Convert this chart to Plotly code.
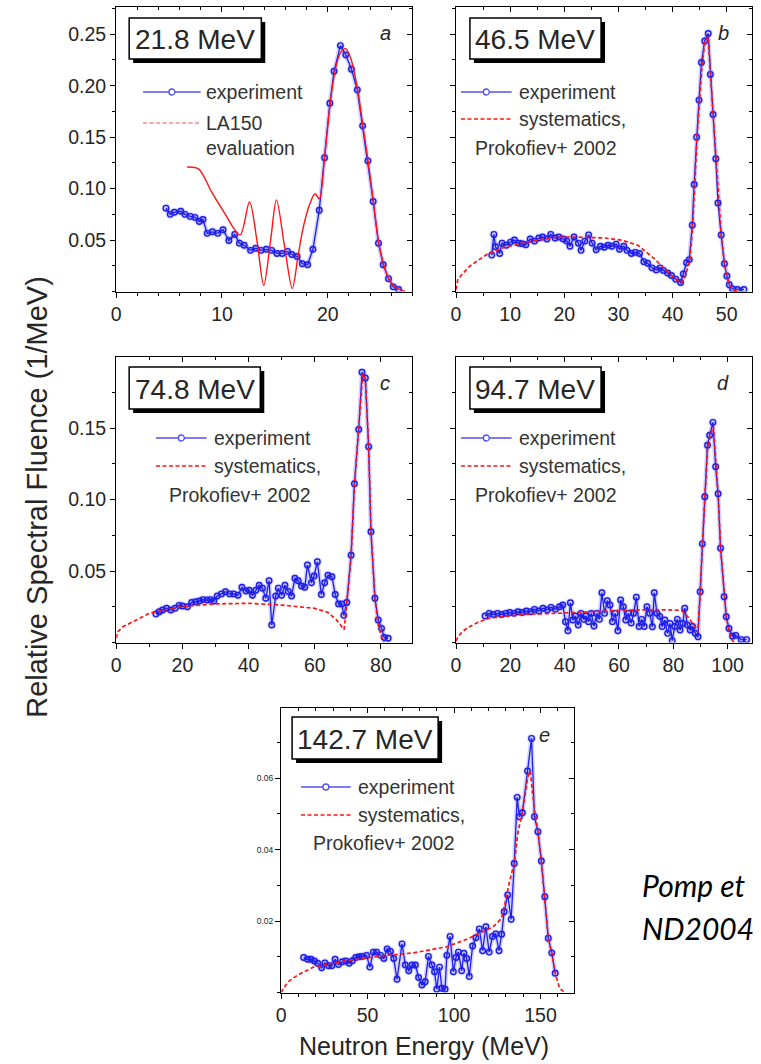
import plotly.graph_objects as go

# ---------------- data ----------------
# panel a : 21.8 MeV
a_exp_x = [4.7, 5.1, 5.5, 6.1, 6.5, 7.0, 7.45, 7.85, 8.2, 8.6, 9.1, 9.6, 10.1, 10.65, 11.2, 11.65, 12.1, 12.7,
           13.2, 13.7, 14.2, 14.7, 15.2, 15.7, 16.2, 16.6, 17.1, 17.6, 18.1, 18.6, 19.2, 19.7, 20.2, 20.6, 21.2,
           21.7, 22.25, 22.8, 23.3, 23.8, 24.3, 24.8, 25.25, 25.75, 26.2, 26.7]
a_exp_y = [0.081, 0.075, 0.077, 0.078, 0.075, 0.073, 0.072, 0.068, 0.070, 0.0565, 0.058, 0.0565, 0.060, 0.0495,
           0.0555, 0.047, 0.045, 0.040, 0.042, 0.040, 0.041, 0.040, 0.037, 0.037, 0.039, 0.036, 0.034, 0.027,
           0.026, 0.041, 0.079, 0.130, 0.183, 0.214, 0.239, 0.230, 0.216, 0.196, 0.161, 0.127, 0.0875, 0.047,
           0.026, 0.0125, 0.0045, 0.002]
a_eval_x = [6.7, 7.8, 9.0, 10.2, 11.7, 12.6, 13.3, 13.95, 14.6, 15.15, 15.9, 16.65, 17.2, 17.7, 18.3, 18.8, 19.2,
            19.7, 20.2, 20.7, 21.2, 21.7, 22.2, 22.8, 23.3, 23.8, 24.3, 24.8, 25.3, 25.8, 26.3, 26.8, 27.3]
a_eval_y = [0.121, 0.119, 0.097, 0.077, 0.055, 0.087, 0.050, 0.006, 0.050, 0.089, 0.045, 0.003, 0.035, 0.063,
            0.085, 0.095, 0.090, 0.130, 0.180, 0.215, 0.232, 0.236, 0.226, 0.198, 0.163, 0.128, 0.089, 0.049,
            0.026, 0.012, 0.005, 0.002, 0.0]

# panel b : 46.5 MeV
b_exp_x = [6.6, 7.0, 7.3, 8.06, 8.5, 9.3, 10.07, 10.8, 11.6, 12.2, 12.9, 13.7, 14.5, 15.3, 16.0, 16.8, 17.5,
           18.3, 19.0, 19.8, 20.45, 21.06, 21.8, 22.6, 23.1, 23.8, 24.5, 25.15, 25.9, 26.7, 27.4, 28.1, 28.8,
           29.6, 30.2, 31.0, 31.6, 32.4, 33.1, 33.9, 34.7, 35.4, 36.2, 37.0, 37.7, 38.3, 39.1, 39.8, 40.6, 41.5,
           42.0, 42.6, 43.1, 43.65, 44.0, 44.45, 44.9, 45.35, 45.95, 46.6, 47.0, 47.5, 48.0, 48.4, 49.0, 49.6,
           50.05, 50.5, 51.1, 52.0, 53.2]
b_exp_y = [0.0354, 0.0555, 0.0435, 0.037, 0.047, 0.045, 0.048, 0.050, 0.047, 0.0465, 0.0455, 0.051, 0.049,
           0.052, 0.053, 0.051, 0.0555, 0.052, 0.053, 0.051, 0.049, 0.044, 0.053, 0.047, 0.040, 0.049, 0.055,
           0.047, 0.0405, 0.044, 0.043, 0.045, 0.044, 0.046, 0.041, 0.044, 0.040, 0.037, 0.038, 0.037, 0.029,
           0.0275, 0.023, 0.021, 0.023, 0.0205, 0.018, 0.0155, 0.012, 0.0087, 0.017, 0.028, 0.031, 0.0645,
           0.104, 0.150, 0.186, 0.2225, 0.2435, 0.2507, 0.211, 0.172, 0.129, 0.086, 0.055, 0.027, 0.015, 0.0065,
           0.0025, 0.002, 0.002]
b_sys_x = [0, 0.3, 1, 2.4, 4, 6.1, 9, 12.2, 15, 18.3, 21, 24.4, 27.5, 30.5, 33.6, 36.6, 39.7, 41.6, 42.3, 43.2,
           43.7, 44.1, 44.5, 45.0, 45.5, 46.0, 46.6, 47.0, 47.5, 48.0, 48.5, 49.0, 49.6, 50.1, 50.6, 51.2, 52]
b_sys_y = [0.002, 0.011, 0.016, 0.024, 0.030, 0.0375, 0.043, 0.047, 0.050, 0.0525, 0.053, 0.0525, 0.052, 0.050,
           0.045, 0.032, 0.016, 0.008, 0.014, 0.030, 0.063, 0.102, 0.148, 0.186, 0.222, 0.243, 0.248, 0.212,
           0.172, 0.129, 0.086, 0.055, 0.027, 0.014, 0.006, 0.002, 0.0]

# panel c : 74.8 MeV
c_exp_x = [12.0, 13.0, 14.0, 15.2, 16.5, 17.8, 19.0, 20.0, 21.5, 22.8, 24.0, 25.2, 26.2, 27.5, 28.5, 29.5, 30.5,
           31.8, 33.0, 34.3, 35.5, 36.8, 38.0, 39.2, 40.2, 41.2, 42.2, 43.2, 44.2, 45.2, 46.2, 47.0, 48.2, 49.0,
           50.0, 51.0, 52.0, 53.0, 54.0, 55.0, 56.0, 57.0, 57.8, 59.0, 59.8, 60.8, 62.0, 63.0, 64.0, 65.2, 66.2,
           67.2, 68.2, 68.8, 69.7, 71.0, 72.0, 73.3, 74.3, 75.3, 76.3, 77.0, 78.2, 79.2, 80.2, 81.0, 82.2]
c_exp_y = [0.020, 0.0215, 0.0227, 0.024, 0.0227, 0.024, 0.026, 0.0255, 0.025, 0.028, 0.0285, 0.029, 0.030,
           0.0297, 0.030, 0.029, 0.0325, 0.034, 0.0355, 0.034, 0.034, 0.033, 0.0386, 0.036, 0.0365, 0.033,
           0.0365, 0.040, 0.038, 0.031, 0.0432, 0.0122, 0.0325, 0.038, 0.033, 0.040, 0.0357, 0.0325, 0.0449,
           0.0432, 0.0395, 0.0386, 0.0542, 0.0418, 0.0465, 0.0565, 0.0336, 0.0418, 0.047, 0.046, 0.0336, 0.027,
           0.027, 0.019, 0.028, 0.061, 0.111, 0.149, 0.189, 0.185, 0.137, 0.0775, 0.031, 0.0157, 0.0099, 0.0035,
           0.003]
c_sys_x = [0, 0.5, 2, 5, 10, 15, 20, 30, 40, 50, 60, 64, 66.5, 68.2, 68.9, 69.7, 71.0, 72.0, 73.3, 74.5, 75.3,
           76.3, 77.0, 78.2, 79.2, 80.2, 81.0]
c_sys_y = [0.003, 0.0076, 0.011, 0.0146, 0.0204, 0.023, 0.0251, 0.027, 0.0274, 0.0262, 0.0239, 0.021, 0.016,
           0.011, 0.009, 0.028, 0.060, 0.110, 0.150, 0.188, 0.184, 0.137, 0.078, 0.031, 0.012, 0.004, 0.0]

# panel d : 94.7 MeV
d_exp_x = [10.7, 12.2, 13.7, 15.3, 16.8, 18.3, 19.8, 21.4, 22.8, 24.4, 25.9, 27.5, 28.9, 30.5, 32.0, 33.6, 35.0,
           36.6, 38.1, 39.3, 40.3, 41.2, 42.1, 43.0, 44.0, 45.0, 46.0, 47.0, 47.8, 48.8, 49.8, 50.8, 51.8, 52.8,
           53.7, 54.7, 55.7, 56.7, 57.6, 58.6, 59.6, 60.6, 61.6, 62.5, 63.5, 64.5, 65.4, 66.4, 67.4, 68.4, 69.3,
           70.3, 71.3, 72.3, 73.0, 74.0, 75.0, 75.9, 76.9, 77.9, 78.8, 79.6, 80.5, 81.5, 82.5, 83.5, 84.2, 85.2,
           86.2, 87.1, 88.1, 89.1, 89.9, 90.7, 91.6, 92.6, 93.4, 94.6, 95.6, 96.5, 97.4, 98.7, 99.5, 100.5, 101.8,
           103.0, 105.0, 107.0]
d_exp_y = [0.0185, 0.0204, 0.0196, 0.0204, 0.0196, 0.0204, 0.021, 0.0204, 0.0215, 0.021, 0.022, 0.0215, 0.0232,
           0.022, 0.024, 0.0227, 0.0246, 0.0232, 0.025, 0.0262, 0.0146, 0.0082, 0.0278, 0.0157, 0.0185, 0.0122,
           0.0204, 0.0162, 0.0185, 0.0146, 0.0204, 0.0115, 0.0204, 0.0162, 0.0348, 0.0204, 0.0292, 0.0262,
           0.0146, 0.0204, 0.0082, 0.0297, 0.025, 0.0157, 0.0204, 0.0136, 0.0204, 0.0316, 0.0112, 0.0162, 0.0112,
           0.025, 0.0204, 0.011, 0.0348, 0.0204, 0.0183, 0.0112, 0.0157, 0.0064, 0.0133, 0.0013, 0.0112, 0.0162,
           0.0087, 0.0133, 0.024, 0.0122, 0.0087, 0.0112, 0.0064, 0.004, 0.0355, 0.069, 0.102, 0.138, 0.145,
           0.154, 0.123, 0.104, 0.066, 0.032, 0.018, 0.0098, 0.0044, 0.005, 0.002, 0.002]
d_sys_x = [0, 0.6, 2, 4, 6.1, 9, 12.2, 18.3, 24.4, 36.6, 48.8, 61, 73.3, 83, 85.5, 88, 89.0, 89.9, 90.7, 91.6,
           92.6, 93.6, 94.8, 95.6, 96.5, 97.4, 98.7, 99.5, 100.5, 101.5, 102.5]
d_sys_y = [0.001, 0.0035, 0.007, 0.010, 0.0122, 0.0148, 0.017, 0.0185, 0.0196, 0.0204, 0.0215, 0.0225, 0.023,
           0.0225, 0.0176, 0.011, 0.007, 0.035, 0.069, 0.100, 0.136, 0.145, 0.151, 0.128, 0.104, 0.066, 0.032,
           0.018, 0.008, 0.002, 0.0]

# panel e : 142.7 MeV
e_exp_x = [13.0, 15.3, 17.2, 19.2, 21.1, 23.4, 25.3, 27.4, 29.3, 31.2, 33.1, 35.4, 37.4, 39.3, 41.2, 43.1, 45.0,
           46.9, 49.4, 51.3, 53.3, 55.2, 57.5, 59.4, 61.3, 63.2, 65.1, 67.0, 69.9, 71.8, 73.8, 75.7, 77.6, 79.5,
           81.4, 83.3, 85.2, 87.2, 88.7, 90.0, 91.6, 92.9, 94.8, 95.8, 97.7, 99.6, 101.1, 102.5, 104.4, 105.7,
           107.3, 108.8, 110.7, 112.6, 114.6, 116.5, 118.4, 120.3, 122.2, 124.1, 126.0, 127.5, 129.0, 131.0,
           133.0, 134.8, 136.5, 137.8, 139.5, 142.5, 144.8, 146.5, 148.5, 150.5, 152.5, 154.5, 156.5, 158.5]
e_exp_y = [0.0098, 0.0093, 0.0093, 0.0088, 0.0082, 0.0069, 0.0083, 0.0075, 0.0075, 0.0093, 0.0078, 0.0086,
           0.0088, 0.0082, 0.0089, 0.0098, 0.0100, 0.0101, 0.0104, 0.0071, 0.0113, 0.0113, 0.0104, 0.0095, 0.0122,
           0.0115, 0.0095, 0.0037, 0.0136, 0.0077, 0.0061, 0.0077, 0.0077, 0.0042, 0.0021, 0.003, 0.0101, 0.0077,
           0.0058, 0.0009, 0.0071, 0.0012, 0.0009, 0.0104, 0.0157, 0.0058, 0.0098, 0.0113, 0.0061, 0.011, 0.0095,
           0.0045, 0.013, 0.0153, 0.0178, 0.0117, 0.0184, 0.0113, 0.0157, 0.0164, 0.0117, 0.0163, 0.0226, 0.0273,
           0.0205, 0.0361, 0.0546, 0.0492, 0.0503, 0.062, 0.0711, 0.0492, 0.045, 0.0368, 0.0268, 0.0152, 0.0111,
           0.0054]
e_sys_x = [0, 1, 4, 9.6, 19.2, 38.3, 57.5, 76.6, 95.8, 107.3, 115, 122.6, 127.4, 130, 132, 134.8, 137, 139.5,
           142.5, 144, 146.5, 148.5, 150.5, 152.5, 154.5, 156.5, 158.5, 161, 164]
e_sys_y = [0.0, 0.0009, 0.003, 0.0049, 0.0072, 0.0089, 0.0102, 0.0111, 0.0128, 0.0149, 0.0166, 0.0184, 0.0207,
           0.026, 0.031, 0.0361, 0.045, 0.0503, 0.060, 0.062, 0.051, 0.045, 0.0368, 0.0268, 0.0152, 0.011,
           0.0054, 0.0012, 0.0]

energy_labels = ["21.8 MeV", "46.5 MeV", "74.8 MeV", "94.7 MeV", "142.7 MeV"]
panel_letters = ["a", "b", "c", "d", "e"]
x_ticks = [[0, 10, 20], [0, 10, 20, 30, 40, 50], [0, 20, 40, 60, 80], [0, 20, 40, 60, 80, 100], [0, 50, 100, 150]]
y_ticks_ab = [0.05, 0.10, 0.15, 0.20, 0.25]
y_ticks_cd = [0.05, 0.10, 0.15]
y_ticks_e = [0.02, 0.04, 0.06]

# ---------------- layout helpers ----------------
W, H = 761, 1064
FONT = "Liberation Sans, Arial, Helvetica, sans-serif"
TXT = "#262626"


def fx(p):
    return p / W


def fy(p):
    return 1 - p / H


panels = [
    dict(x=(112, 410), y=(7, 291.5), xr=[0, 28], yr=[0, 0.2765], xt=x_ticks[0], xm=2,
         yt=y_ticks_ab, ym=0.025, ylab=True, yfs=19.5,
         exp=(a_exp_x, a_exp_y), ref=(a_eval_x, a_eval_y)),
    dict(x=(454, 752), y=(7, 291.5), xr=[0, 54.7], yr=[0, 0.2765], xt=x_ticks[1], xm=5,
         yt=y_ticks_ab, ym=0.025, ylab=False, yfs=19.5,
         exp=(b_exp_x, b_exp_y), ref=(b_sys_x, b_sys_y)),
    dict(x=(112, 410), y=(357, 642.5), xr=[0, 89.5], yr=[0, 0.1997], xt=x_ticks[2], xm=10,
         yt=y_ticks_cd, ym=0.025, ylab=True, yfs=19.5,
         exp=(c_exp_x, c_exp_y), ref=(c_sys_x, c_sys_y)),
    dict(x=(454, 752), y=(357, 642.5), xr=[0, 109], yr=[0, 0.1997], xt=x_ticks[3], xm=10,
         yt=y_ticks_cd, ym=0.025, ylab=False, yfs=19.5,
         exp=(d_exp_x, d_exp_y), ref=(d_sys_x, d_sys_y)),
    dict(x=(278, 573), y=(708, 992.5), xr=[0, 169.5], yr=[0, 0.0796], xt=x_ticks[4], xm=10,
         yt=y_ticks_e, ym=0.01, ylab=True, yfs=8.5,
         exp=(e_exp_x, e_exp_y), ref=(e_sys_x, e_sys_y)),
]

fig = go.Figure()
layout = {}
annotations = []
shapes = []

BLUE = "#1e1ee8"
RED = "#ff1414"

for i, p in enumerate(panels, start=1):
    xs = "x" if i == 1 else f"x{i}"
    ys = "y" if i == 1 else f"y{i}"
    xo, yo = f"x{i + 5}", f"y{i + 5}"
    xn = "xaxis" if i == 1 else f"xaxis{i}"
    yn = "yaxis" if i == 1 else f"yaxis{i}"

    ex, ey = p["exp"]
    rx, ry = p["ref"]
    # glow underlay
    fig.add_trace(go.Scatter(x=ex, y=ey, xaxis=xs, yaxis=ys, mode="lines+markers",
                             line=dict(color="rgba(80,80,255,0.25)", width=4.5),
                             marker=dict(symbol="circle", size=9, color="rgba(80,80,255,0.22)"),
                             hoverinfo="skip", showlegend=False))
    fig.add_trace(go.Scatter(x=ex, y=ey, xaxis=xs, yaxis=ys, mode="lines+markers",
                             line=dict(color=BLUE, width=1.3),
                             marker=dict(symbol="circle-open", size=5.5, color=BLUE, line=dict(width=1.4)),
                             name="experiment", showlegend=False))
    if i == 1:
        fig.add_trace(go.Scatter(x=rx, y=ry, xaxis=xs, yaxis=ys, mode="lines",
                                 line=dict(color=RED, width=1.4, shape="spline", smoothing=0.9),
                                 name="LA150 evaluation", showlegend=False))
    else:
        fig.add_trace(go.Scatter(x=rx, y=ry, xaxis=xs, yaxis=ys, mode="lines",
                                 line=dict(color=RED, width=1.7, dash="4px,2.5px"),
                                 name="systematics", showlegend=False))
    # dummy traces for mirrored inward ticks
    fig.add_trace(go.Scatter(x=[None], y=[None], xaxis=xo, yaxis=ys, showlegend=False, hoverinfo="skip"))
    fig.add_trace(go.Scatter(x=[None], y=[None], xaxis=xs, yaxis=yo, showlegend=False, hoverinfo="skip"))

    common = dict(showgrid=False, zeroline=False, tickcolor="black", tickwidth=1.2, ticklen=5)
    layout[xn] = dict(domain=[fx(p["x"][0]), fx(p["x"][1])], range=p["xr"], anchor=ys,
                      showline=True, mirror=True, linecolor="black", linewidth=1.4,
                      ticks="outside", tickmode="array", tickvals=p["xt"],
                      ticktext=[str(v) for v in p["xt"]],
                      tickfont=dict(family=FONT, size=19.5, color=TXT),
                      minor=dict(dtick=p["xm"], tick0=0, ticks="outside", ticklen=3, tickcolor="black",
                                 tickwidth=1),
                      **common)
    layout[yn] = dict(domain=[fy(p["y"][1]), fy(p["y"][0])], range=p["yr"], anchor=xs,
                      showline=True, mirror=True, linecolor="black", linewidth=1.4,
                      ticks="outside", tickmode="array", tickvals=p["yt"],
                      ticktext=[f"{v:.2f}" for v in p["yt"]], showticklabels=p["ylab"],
                      tickfont=dict(family=FONT, size=p["yfs"], color=TXT),
                      minor=dict(dtick=p["ym"], tick0=0, ticks="outside", ticklen=3, tickcolor="black",
                                 tickwidth=1),
                      **common)
    layout[f"xaxis{i + 5}"] = dict(overlaying=xs, anchor=ys, side="top", range=p["xr"],
                                   ticks="inside", tickmode="array", tickvals=p["xt"], showticklabels=False,
                                   showline=False,
                                   minor=dict(dtick=p["xm"], tick0=0, ticks="inside", ticklen=3,
                                              tickcolor="black", tickwidth=1),
                                   **common)
    layout[f"yaxis{i + 5}"] = dict(overlaying=ys, anchor=xs, side="right", range=p["yr"],
                                   ticks="inside", tickmode="array", tickvals=p["yt"], showticklabels=False,
                                   showline=False,
                                   minor=dict(dtick=p["ym"], tick0=0, ticks="inside", ticklen=3,
                                              tickcolor="black", tickwidth=1),
                                   **common)

# ---------------- energy boxes ----------------
boxes = [(125, 18, 258, 59), (468, 18, 600, 59), (125, 367, 257, 409), (468, 367, 600, 409), (289, 717, 436, 759)]
for (l, t, r, b), lab in zip(boxes, energy_labels):
    shapes.append(dict(type="rect", xref="paper", yref="paper", x0=fx(l + 4), x1=fx(r + 4), y0=fy(b + 4),
                       y1=fy(t + 4), fillcolor="black", line=dict(width=0), layer="above"))
    shapes.append(dict(type="rect", xref="paper", yref="paper", x0=fx(l), x1=fx(r), y0=fy(b), y1=fy(t),
                       fillcolor="white", line=dict(color="black", width=1.5), layer="above"))
    annotations.append(dict(text=lab, x=fx((l + r) / 2), y=fy((t + b) / 2 + 1), xref="paper", yref="paper",
                            showarrow=False, xanchor="center", yanchor="middle",
                            font=dict(family=FONT, size=28, color=TXT)))

letter_pos = [(383, 33), (723, 33), (383, 383), (723, 383), (543, 735)]
for (lx, ly), lt in zip(letter_pos, panel_letters):
    annotations.append(dict(text=f"<i>{lt}</i>", x=fx(lx), y=fy(ly), xref="paper", yref="paper",
                            showarrow=False, xanchor="center", yanchor="middle",
                            font=dict(family=FONT, size=20, color=TXT)))

# ---------------- legends ----------------
legends = [
    dict(x0=139, x1=197, tx=200, yb=92, yr=123, lines=["LA150", "evaluation"], l3x=200, l3y=148, light=True),
    dict(x0=459, x1=510, tx=515, yb=92, yr=119, lines=["systematics,", "Prokofiev+ 2002"], l3x=471, l3y=148,
         light=False),
    dict(x0=152, x1=203, tx=208, yb=438, yr=466, lines=["systematics,", "Prokofiev+ 2002"], l3x=163, l3y=495,
         light=False),
    dict(x0=459, x1=510, tx=515, yb=438, yr=466, lines=["systematics,", "Prokofiev+ 2002"], l3x=471, l3y=495,
         light=False),
    dict(x0=298, x1=348, tx=353, yb=787, yr=815, lines=["systematics,", "Prokofiev+ 2002"], l3x=308, l3y=843,
         light=False),
]
for L in legends:
    shapes.append(dict(type="line", xref="paper", yref="paper", x0=fx(L["x0"]), x1=fx(L["x1"]),
                       y0=fy(L["yb"]), y1=fy(L["yb"]), line=dict(color="#5050f0", width=1.5), layer="above"))
    cx = (L["x0"] + L["x1"]) / 2
    shapes.append(dict(type="circle", xref="paper", yref="paper", x0=fx(cx - 3), x1=fx(cx + 3),
                       y0=fy(L["yb"] + 3), y1=fy(L["yb"] - 3), fillcolor="white",
                       line=dict(color="#5050f0", width=1.3), layer="above"))
    shapes.append(dict(type="line", xref="paper", yref="paper", x0=fx(L["x0"]), x1=fx(L["x1"]),
                       y0=fy(L["yr"]), y1=fy(L["yr"]),
                       line=dict(color="#f28a8a" if L["light"] else RED, width=1.6, dash="4px,2.5px"),
                       layer="above"))
    annotations.append(dict(text="experiment", x=fx(L["tx"]), y=fy(L["yb"]), xref="paper", yref="paper",
                            showarrow=False, xanchor="left", yanchor="middle",
                            font=dict(family=FONT, size=19.5, color="#333333")))
    annotations.append(dict(text=L["lines"][0], x=fx(L["tx"]), y=fy(L["yr"]), xref="paper", yref="paper",
                            showarrow=False, xanchor="left", yanchor="middle",
                            font=dict(family=FONT, size=19.5, color="#333333")))
    annotations.append(dict(text=L["lines"][1], x=fx(L["l3x"]), y=fy(L["l3y"]), xref="paper", yref="paper",
                            showarrow=False, xanchor="left", yanchor="middle",
                            font=dict(family=FONT, size=19.5, color="#333333")))

# ---------------- axis titles and citation ----------------
annotations.append(dict(text="Relative Spectral Fluence (1/MeV)", x=fx(32), y=fy(497), xref="paper",
                        yref="paper", showarrow=False, textangle=-90, xanchor="center", yanchor="middle",
                        font=dict(family=FONT, size=29, color=TXT)))
annotations.append(dict(text="Neutron Energy (MeV)", x=fx(422), y=fy(1046), xref="paper", yref="paper",
                        showarrow=False, xanchor="center", yanchor="middle",
                        font=dict(family=FONT, size=25, color=TXT)))
annotations.append(dict(text="<i>Pomp et</i>", x=fx(639), y=fy(885), xref="paper", yref="paper",
                        showarrow=False, xanchor="left", yanchor="middle",
                        font=dict(family="Lato, Open Sans, sans-serif", size=30, color="black")))
annotations.append(dict(text="<i>ND2004</i>", x=fx(639), y=fy(928), xref="paper", yref="paper",
                        showarrow=False, xanchor="left", yanchor="middle",
                        font=dict(family="Lato, Open Sans, sans-serif", size=30, color="black")))

fig.update_layout(width=W, height=H, margin=dict(l=0, r=0, t=0, b=0), paper_bgcolor="white",
                  plot_bgcolor="white", showlegend=False, annotations=annotations, shapes=shapes, **layout)

fig.write_html("out.html")
